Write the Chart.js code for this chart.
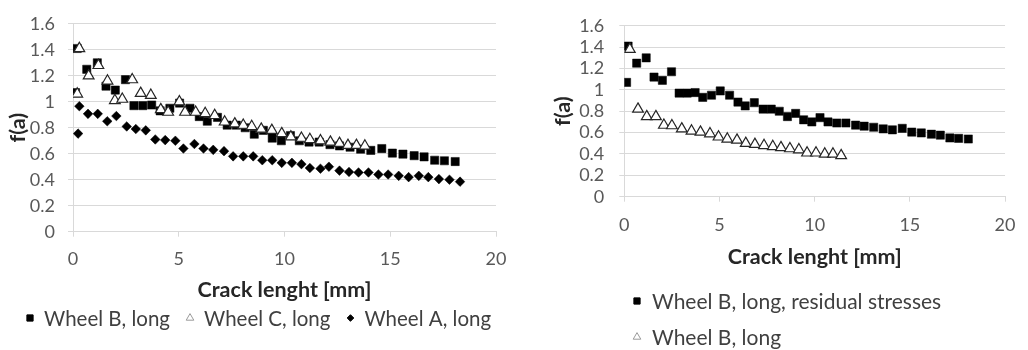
<!DOCTYPE html>
<html><head><meta charset="utf-8">
<script src="https://cdn.jsdelivr.net/npm/chart.js@4.4.1/dist/chart.umd.min.js"></script>
<style>
html,body{margin:0;padding:0;background:#fff;width:1028px;height:350px;overflow:hidden}
#c1{position:absolute;left:0;top:0}
#c2{position:absolute;left:520px;top:0}
</style></head><body>
<canvas id="c1" width="520" height="350"></canvas>
<canvas id="c2" width="508" height="350"></canvas>
<script>
// ---------- data ----------
const xTicks = [0, 5, 10, 15, 20];
const xTickLabels = ['0', '5', '10', '15', '20'];
const yTicks = [0, 0.2, 0.4, 0.6, 0.8, 1, 1.2, 1.4, 1.6];
const yTickLabels = ['0', '0.2', '0.4', '0.6', '0.8', '1', '1.2', '1.4', '1.6'];
const xTitle = 'Crack lenght [mm]';
const yTitle = 'f(a)';

const labelsLeft = ['Wheel B, long', 'Wheel C, long', 'Wheel A, long'];
const labelsRight = ['Wheel B, long, residual stresses', 'Wheel B, long'];

// Wheel B, long (left) = Wheel B, long, residual stresses (right)
const crackB = [0.12, 0.2, 0.65, 1.15, 1.56, 2.0, 2.48, 2.88, 3.3, 3.72, 4.12, 4.58, 5.04, 5.53, 5.97, 6.35, 6.83, 7.29, 7.72, 8.14, 8.57, 9.0, 9.42, 9.85, 10.28, 10.7, 11.16, 11.64, 12.15, 12.6, 13.1, 13.6, 14.08, 14.6, 15.1, 15.6, 16.13, 16.6, 17.1, 17.56, 18.07];
const fB = [1.07, 1.41, 1.25, 1.30, 1.12, 1.09, 1.17, 0.97, 0.97, 0.975, 0.93, 0.95, 0.99, 0.95, 0.886, 0.85, 0.88, 0.82, 0.82, 0.80, 0.75, 0.78, 0.72, 0.70, 0.74, 0.70, 0.69, 0.69, 0.67, 0.66, 0.65, 0.635, 0.626, 0.64, 0.605, 0.597, 0.585, 0.576, 0.55, 0.546, 0.54];

// Wheel C, long (left)
const crackC = [0.2, 0.3, 0.74, 1.2, 1.63, 1.98, 2.33, 2.8, 3.2, 3.68, 4.15, 4.5, 5.03, 5.3, 5.8, 6.25, 6.7, 7.17, 7.65, 8.05, 8.45, 8.9, 9.4, 9.87, 10.3, 10.8, 11.2, 11.7, 12.17, 12.6, 13.0, 13.4, 13.8];
const fC = [1.06, 1.41, 1.20, 1.28, 1.16, 1.01, 1.02, 1.17, 1.065, 1.05, 0.94, 0.92, 1.00, 0.92, 0.92, 0.91, 0.895, 0.845, 0.83, 0.82, 0.81, 0.79, 0.78, 0.755, 0.73, 0.72, 0.71, 0.70, 0.69, 0.68, 0.665, 0.665, 0.66];

// Wheel A, long (left)
const crackA = [0.24, 0.3, 0.71, 1.17, 1.62, 2.05, 2.54, 2.97, 3.44, 3.89, 4.36, 4.84, 5.22, 5.74, 6.17, 6.63, 7.14, 7.57, 8.05, 8.52, 8.95, 9.42, 9.87, 10.35, 10.8, 11.2, 11.7, 12.1, 12.6, 13.05, 13.5, 13.97, 14.44, 14.9, 15.4, 15.87, 16.35, 16.8, 17.3, 17.8, 18.3];
const fA = [0.755, 0.966, 0.907, 0.907, 0.85, 0.89, 0.81, 0.79, 0.78, 0.71, 0.705, 0.70, 0.64, 0.675, 0.64, 0.63, 0.62, 0.58, 0.58, 0.58, 0.55, 0.55, 0.53, 0.53, 0.52, 0.49, 0.485, 0.50, 0.47, 0.46, 0.456, 0.456, 0.44, 0.44, 0.43, 0.42, 0.43, 0.42, 0.405, 0.40, 0.385];

// Wheel B, long (right)
const crackB2 = [0.29, 0.72, 1.18, 1.66, 2.08, 2.5, 3.02, 3.53, 4.0, 4.5, 4.95, 5.41, 5.92, 6.38, 6.86, 7.34, 7.8, 8.23, 8.7, 9.17, 9.6, 10.07, 10.53, 10.96, 11.39];
const fB2 = [1.38, 0.82, 0.75, 0.75, 0.67, 0.665, 0.635, 0.615, 0.605, 0.59, 0.56, 0.54, 0.53, 0.50, 0.49, 0.48, 0.47, 0.46, 0.45, 0.44, 0.41, 0.41, 0.40, 0.40, 0.385];

// ---------- helpers ----------
const FONT = 'Lato, "Open Sans", "DejaVu Sans", sans-serif';
function pts(xs, ys) { return xs.map((x, i) => ({x: x, y: ys[i]})); }

const squareStyle = {pointStyle: 'rect', pointRadius: 5.8, pointBackgroundColor: '#000', pointBorderColor: '#000', pointBorderWidth: 0.5, legendRadius: 4.4, legendStroke: '#000'};
const triStyle = {pointStyle: 'triangle', pointRadius: 6.2, pointBackgroundColor: '#fff', pointBorderColor: '#262626', pointBorderWidth: 1.2, legendRadius: 4.4, legendStroke: '#9a9a9a'};
const diaStyle = {pointStyle: 'rectRot', pointRadius: 4.8, pointBackgroundColor: '#000', pointBorderColor: '#000', pointBorderWidth: 0.5, legendRadius: 3.3, legendStroke: '#000'};

function ds(label, xs, ys, st, order) {
  return {label: label, data: pts(xs, ys), order: order, showLine: false,
    pointStyle: st.pointStyle, pointRadius: st.pointRadius, pointHoverRadius: st.pointRadius,
    pointBackgroundColor: st.pointBackgroundColor, pointBorderColor: st.pointBorderColor,
    pointBorderWidth: st.pointBorderWidth, legendRadius: st.legendRadius, legendStroke: st.legendStroke};
}

function drawMarker(ctx, style, r, x, y) {
  if (Chart.helpers && Chart.helpers.drawPoint) {
    Chart.helpers.drawPoint(ctx, {pointStyle: style, radius: r, borderWidth: ctx.lineWidth, rotation: 0}, x, y);
    return;
  }
  ctx.beginPath();
  if (style === 'rect') { const s = r * Math.SQRT1_2; ctx.rect(x - s, y - s, 2 * s, 2 * s); }
  else if (style === 'triangle') { ctx.moveTo(x, y - r); ctx.lineTo(x + r * 0.866, y + r / 2); ctx.lineTo(x - r * 0.866, y + r / 2); ctx.closePath(); }
  else { ctx.moveTo(x, y - r); ctx.lineTo(x + r, y); ctx.lineTo(x, y + r); ctx.lineTo(x - r, y); ctx.closePath(); }
  ctx.fill(); ctx.stroke();
}

const pointLegend = {
  id: 'pointLegend',
  afterDraw(chart, args, o) {
    const ctx = chart.ctx;
    ctx.save();
    ctx.font = o.fontSize + 'px ' + FONT;
    ctx.textBaseline = 'middle';
    ctx.textAlign = 'left';
    let x = o.x, y = o.y;
    chart.data.datasets.forEach((d) => {
      ctx.fillStyle = d.pointBackgroundColor;
      ctx.strokeStyle = d.legendStroke;
      ctx.lineWidth = 1;
      drawMarker(ctx, d.pointStyle, d.legendRadius, x, y);
      ctx.fillStyle = o.color;
      ctx.fillText(d.label, x + o.textGap, y + 1);
      const w = ctx.measureText(d.label).width;
      if (o.dir === 'row') { x += o.textGap + w + o.itemGap; } else { y += o.rowGap; }
    });
    ctx.restore();
  }
};

function makeScales(o) {
  return {
    x: {
      type: 'linear', min: 0, max: 20,
      afterBuildTicks: s => { s.ticks = xTicks.map(v => ({value: v})); },
      afterFit: s => { s.height = o.xh; },
      grid: {drawOnChartArea: false, drawTicks: true, tickLength: 5, color: '#d9d9d9', lineWidth: 1},
      border: {display: true, color: '#d9d9d9', width: 1},
      ticks: {color: '#595959', font: {family: FONT, size: 18}, padding: o.xpad, maxRotation: 0, autoSkip: false,
        callback: (v, i) => xTickLabels[i]},
      title: {display: true, text: xTitle, color: '#262626', font: {family: FONT, size: 21.5, weight: 'bold', lineHeight: 1.2}, padding: 0}
    },
    y: {
      type: 'linear', min: 0, max: 1.6,
      afterBuildTicks: s => { s.ticks = yTicks.map(v => ({value: v})); },
      afterFit: s => { s.width = o.yw; },
      grid: {color: '#d9d9d9', lineWidth: 1, drawTicks: true, tickLength: 5},
      border: {display: true, color: '#d9d9d9', width: 1},
      ticks: {color: '#595959', font: {family: FONT, size: 18}, padding: o.ypad, autoSkip: false,
        callback: (v, i) => yTickLabels[i]},
      title: {display: true, text: yTitle, color: '#262626', font: {family: FONT, size: 21.5, weight: 'bold', lineHeight: 1.2}, padding: 0}
    }
  };
}

function baseOptions(o) {
  return {
    responsive: false, animation: false, devicePixelRatio: 1, events: [],
    layout: {padding: o.padding},
    scales: makeScales(o),
    plugins: {legend: {display: false}, tooltip: {enabled: false}, pointLegend: o.legend}
  };
}

// ---------- left chart ----------
new Chart(document.getElementById('c1'), {
  type: 'scatter',
  data: {datasets: [
    ds(labelsLeft[0], crackB, fB, squareStyle, 3),
    ds(labelsLeft[1], crackC, fC, triStyle, 2),
    ds(labelsLeft[2], crackA, fA, diaStyle, 1)
  ]},
  options: baseOptions({
    padding: {left: 5.1, top: 20.7, right: 24, bottom: 47.1},
    xh: 71.2, yw: 67.9, xpad: 11.5, ypad: 13,
    legend: {dir: 'row', x: 30, y: 318, textGap: 14, itemGap: 20, fontSize: 20.5, color: '#404040'}
  }),
  plugins: [pointLegend]
});

// ---------- right chart ----------
new Chart(document.getElementById('c2'), {
  type: 'scatter',
  data: {datasets: [
    ds(labelsRight[0], crackB, fB, squareStyle, 2),
    ds(labelsRight[1], crackB2, fB2, triStyle, 1)
  ]},
  options: baseOptions({
    padding: {left: 30.1, top: 16, right: 13, bottom: 80.1},
    xh: 73.2, yw: 74.2, xpad: 12.5, ypad: 15,
    legend: {dir: 'col', x: 117, y: 301, textGap: 15, rowGap: 36, fontSize: 21, color: '#404040'}
  }),
  plugins: [pointLegend]
});
</script>
</body></html>
